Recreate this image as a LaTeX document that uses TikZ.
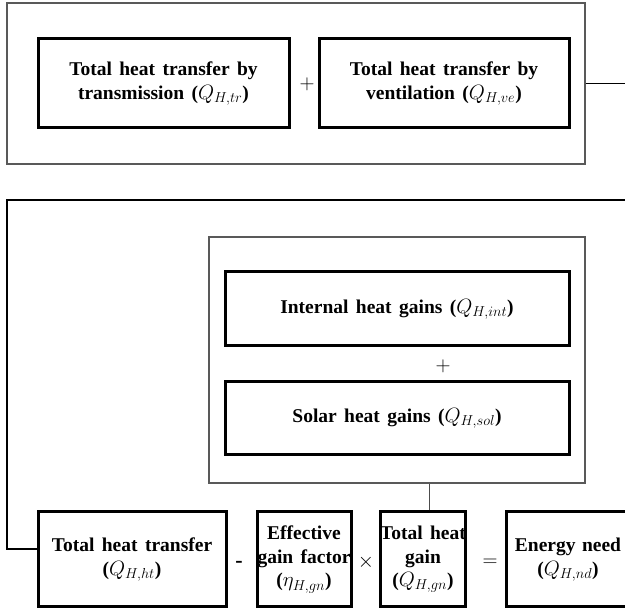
\documentclass[tikz,border=0pt]{standalone}
\usepackage{fontspec}
\setmainfont{Liberation Serif}
\newcommand{\mywidesp}{\spaceskip=0.38em plus 0.1em minus 0.05em\relax}
\begin{document}
\begin{tikzpicture}[x=1pt,y=-1pt,
  frame/.style={draw=black!65,line width=1.3pt,minimum width=#1,inner sep=0pt},
  thickbox/.style={draw=black,line width=3pt,inner sep=0pt,align=center,font=\fontsize{19.5}{23.5}\selectfont\bfseries\mywidesp},
  opsym/.style={inner sep=0pt,font=\fontsize{22}{24}\selectfont},
  wire/.style={draw=black,line width=1.3pt},
  thinwire/.style={draw=black!70,line width=1pt}]
\clip (0,0) rectangle (625,609);
\fill[white] (0,0) rectangle (625,609);
% top group
\node[frame=578pt,minimum height=161pt] (top) at (296,83.5) {};
\node[thickbox,minimum width=251pt,minimum height=89pt] (b1) at (163.5,83.5) {Total heat transfer by\\transmission ($Q_{H,tr}$)};
\node[thickbox,minimum width=250pt,minimum height=89pt] (b2) at (444,83.5) {Total heat transfer by\\ventilation ($Q_{H,ve}$)};
\node[opsym] (p1) at (307,84) {$+$};
\coordinate (r1) at (625,83.5);
\draw[wire] (top.east) -- (r1);
% gains group
\node[frame=376pt,minimum height=246pt] (gf) at (397,360) {};
\node[thickbox,minimum width=344pt,minimum height=74pt] (int) at (397,309) {Internal heat gains ($Q_{H,int}$)};
\node[opsym] (p2) at (443,366) {$+$};
\node[thickbox,minimum width=344pt,minimum height=73pt] (sol) at (397,418.5) {Solar heat gains ($Q_{H,sol}$)};
% bottom row
\node[thickbox,minimum width=188pt,minimum height=95pt] (ht) at (132,559.5) {Total heat transfer\\($Q_{H,ht}$)};
\node[thickbox,minimum width=94pt,minimum height=95pt] (eff) at (304,559.5) {Effective\\gain factor\\($\eta_{H,gn}$)};
\node[thickbox,minimum width=82pt,minimum height=95pt] (gn) at (423,559.5) {Total heat\\gain\\($Q_{H,gn}$)};
\node[thickbox,minimum width=124pt,minimum height=95pt,text width=118pt] (nd) at (568,559.5) {Energy need\\($Q_{H,nd}$)};
\node[opsym,font=\fontsize{22}{24}\selectfont\bfseries] (mi) at (239,564) {-};
\node[opsym] (tm) at (366,562) {$\times$};
\node[opsym] (eq) at (490,563) {$=$};
% connectors
\coordinate (tr) at (625,200);
\coordinate (tl) at (7,200);
\draw[wire] (tr) -- (tl) |- ([yshift=10.5pt]ht.west);
\draw[thinwire] ([xshift=6pt]gn.north) -- ([xshift=6pt]gn.north |- gf.south);
\end{tikzpicture}
\end{document}
